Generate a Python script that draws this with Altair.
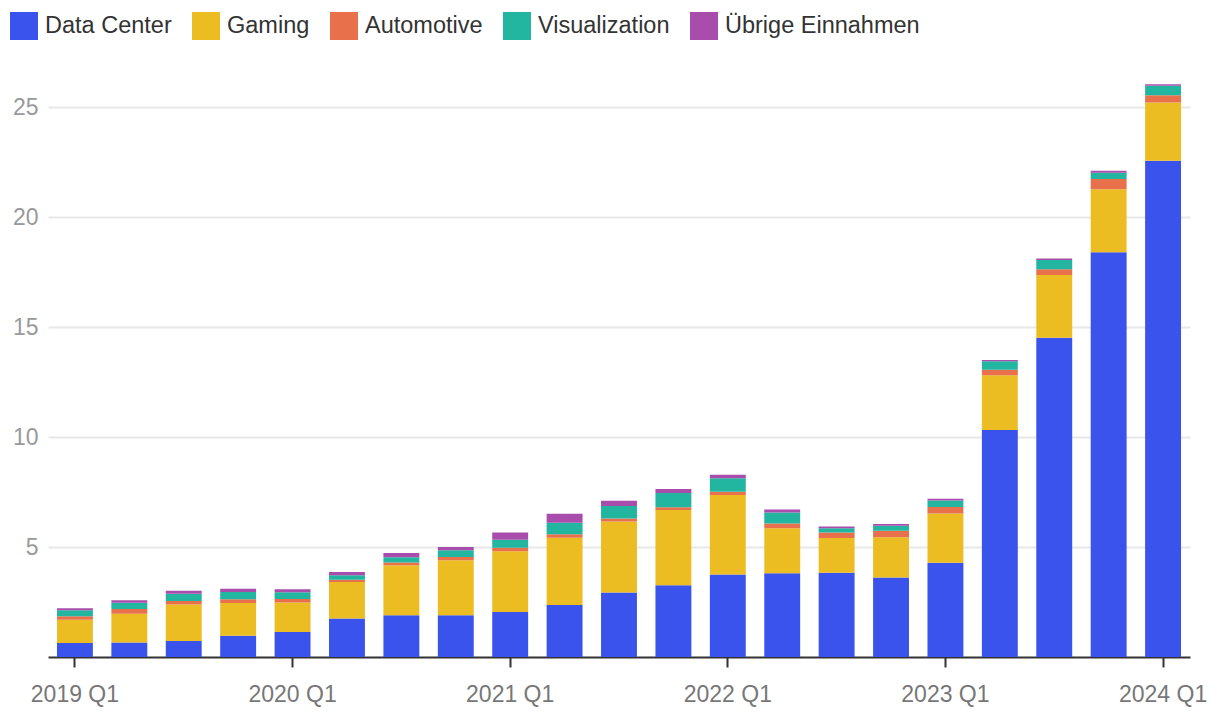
import altair as alt
import pandas as pd

quarters = [
    "2019 Q1", "2019 Q2", "2019 Q3", "2019 Q4",
    "2020 Q1", "2020 Q2", "2020 Q3", "2020 Q4",
    "2021 Q1", "2021 Q2", "2021 Q3", "2021 Q4",
    "2022 Q1", "2022 Q2", "2022 Q3", "2022 Q4",
    "2023 Q1", "2023 Q2", "2023 Q3", "2023 Q4",
    "2024 Q1",
]
tick_labels = ["2019 Q1", "2020 Q1", "2021 Q1", "2022 Q1", "2023 Q1", "2024 Q1"]

data_center = [0.634, 0.655, 0.726, 0.968, 1.141, 1.752, 1.900, 1.903, 2.048, 2.366, 2.936,
               3.263, 3.750, 3.806, 3.833, 3.616, 4.284, 10.323, 14.514, 18.404, 22.563]
gaming = [1.055, 1.313, 1.659, 1.491, 1.339, 1.654, 2.271, 2.495, 2.760, 3.061, 3.221,
          3.420, 3.620, 2.042, 1.574, 1.831, 2.240, 2.486, 2.856, 2.865, 2.647]
automotive = [0.166, 0.209, 0.162, 0.163, 0.155, 0.111, 0.125, 0.145, 0.154, 0.152, 0.135,
              0.125, 0.138, 0.220, 0.251, 0.294, 0.296, 0.253, 0.261, 0.463, 0.329]
visualization = [0.266, 0.291, 0.324, 0.331, 0.307, 0.203, 0.236, 0.307, 0.372, 0.519, 0.577,
                 0.643, 0.622, 0.496, 0.200, 0.226, 0.295, 0.379, 0.416, 0.281, 0.427]
other = [0.099, 0.111, 0.143, 0.152, 0.138, 0.146, 0.194, 0.153, 0.327, 0.409, 0.234,
         0.192, 0.158, 0.140, 0.073, 0.084, 0.077, 0.066, 0.073, 0.090, 0.078]

segments = ["Data Center", "Gaming", "Automotive", "Visualization", "Übrige Einnahmen"]
colors = ["#3a53ed", "#ebbd22", "#e8704b", "#22b5a0", "#a94dad"]
series = [data_center, gaming, automotive, visualization, other]

rows = []
for i, q in enumerate(quarters):
    for k, (name, vals) in enumerate(zip(segments, series)):
        rows.append({"quarter": q, "segment": name, "value": vals[i], "idx": k})
df = pd.DataFrame(rows)

FONT = "Liberation Sans"

chart = alt.Chart(df).mark_bar(strokeWidth=0).encode(
    x=alt.X(
        "quarter:N",
        sort=quarters,
        scale=alt.Scale(paddingInner=0.34, paddingOuter=0.165),
        axis=alt.Axis(
            values=tick_labels, title=None, labelAngle=0, grid=False,
            domainColor="#333333", domainWidth=2,
            tickColor="#333333", tickWidth=2, tickSize=10,
            labelFont=FONT, labelFontSize=23, labelColor="#777777", labelPadding=16,
        ),
    ),
    y=alt.Y(
        "value:Q",
        stack="zero",
        scale=alt.Scale(domain=[0, 26.05], nice=False),
        axis=alt.Axis(
            values=[5, 10, 15, 20, 25], title=None, grid=True,
            gridColor="#e8e8e8", gridWidth=2, domain=False, ticks=False,
            labelFont=FONT, labelFontSize=23, labelColor="#999999", labelPadding=10,
        ),
    ),
    color=alt.Color(
        "segment:N",
        scale=alt.Scale(domain=segments, range=colors),
        legend=alt.Legend(
            title=None, orient="none", direction="horizontal",
            legendX=-38, legendY=-72,
            symbolType="square", symbolSize=784, symbolStrokeWidth=0, symbolOpacity=1,
            labelFont=FONT, labelFontSize=23.5, labelColor="#333333",
            labelOffset=7, columnPadding=20, labelLimit=300, padding=0,
        ),
    ),
    order=alt.Order("idx:Q", sort="ascending"),
).properties(
    width=1142,
    height=573,
    autosize=alt.AutoSizeParams(type="none"),
    padding={"left": 40, "top": 76, "right": 20, "bottom": 52},
).configure_view(stroke=None)

chart.save("out.html", embed_options={"renderer": "svg", "actions": False})
